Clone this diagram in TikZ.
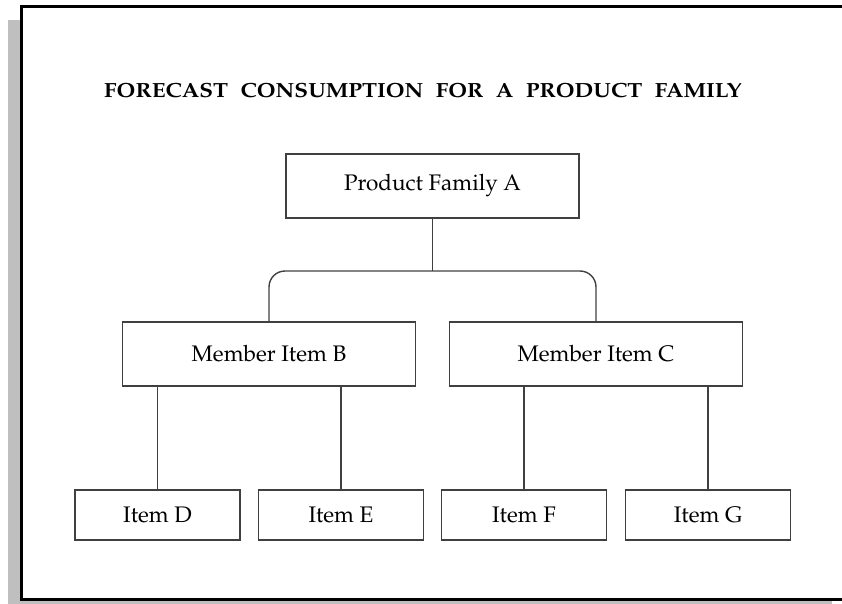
\documentclass[tikz,border=0pt]{standalone}
\usepackage[T1]{fontenc}
\usepackage{mathpazo}
\usepackage{graphicx}
\usepackage{tikz}
\usetikzlibrary{positioning, calc}

\newcommand{\gapword}{\hspace{0.55em}}

\begin{document}
\begin{tikzpicture}[x=1pt, y=-1pt]
		\tikzstyle{famblock} = [draw=black!75, line width=1.4, fill=white, minimum width=293, minimum height=64, inner sep=0, font=\fontsize{22.5}{27}\selectfont]
		\tikzstyle{itemblock} = [famblock, minimum width=165, minimum height=50]
		\tikzstyle{link} = [draw=black!75, line width=1.4]
		\tikzstyle{shade} = [fill=black!25, draw=none]
		\useasboundingbox (0,0) rectangle (842,604);
		% frame with shadow
		\fill [shade] (8,20) rectangle (21,604);
		\fill [shade] (8,601) rectangle (832,604);
		\draw [line width=2.6] (850,6.5) -- (21.5,6.5) -- (21.5,599.5) -- (850,599.5);
		\node [anchor=base west, font=\fontsize{20.5}{24}\bfseries\selectfont, inner sep=0] (vtitle) at (104,98) {\scalebox{1.1}[1]{FORECAST\gapword CONSUMPTION\gapword FOR\gapword A\gapword PRODUCT\gapword FAMILY}};
		% family and members
		\node [famblock] (vA) at (432.5,186) {Product Family A};
		\node [famblock] (vB) at (269,354) {Member Item B};
		\node [famblock] (vC) at (596,354) {Member Item C};
		\node [itemblock] (vD) at (157.5,515) {Item D};
		\node [itemblock] (vE) at (341,515) {Item E};
		\node [itemblock] (vF) at (524,515) {Item F};
		\node [itemblock] (vG) at (708,515) {Item G};
		\coordinate (vsplit) at (432.5,271);
		\draw [link] (vA) -- (vsplit);
		\draw [link, rounded corners=16] (vB.north) |- (vsplit) -| (vC.north);
		\draw [link] (vB.south -| vD.north) -- (vD.north);
		\draw [link] (vB.south -| vE.north) -- (vE.north);
		\draw [link] (vC.south -| vF.north) -- (vF.north);
		\draw [link] (vC.south -| vG.north) -- (vG.north);
\end{tikzpicture}
\end{document}
